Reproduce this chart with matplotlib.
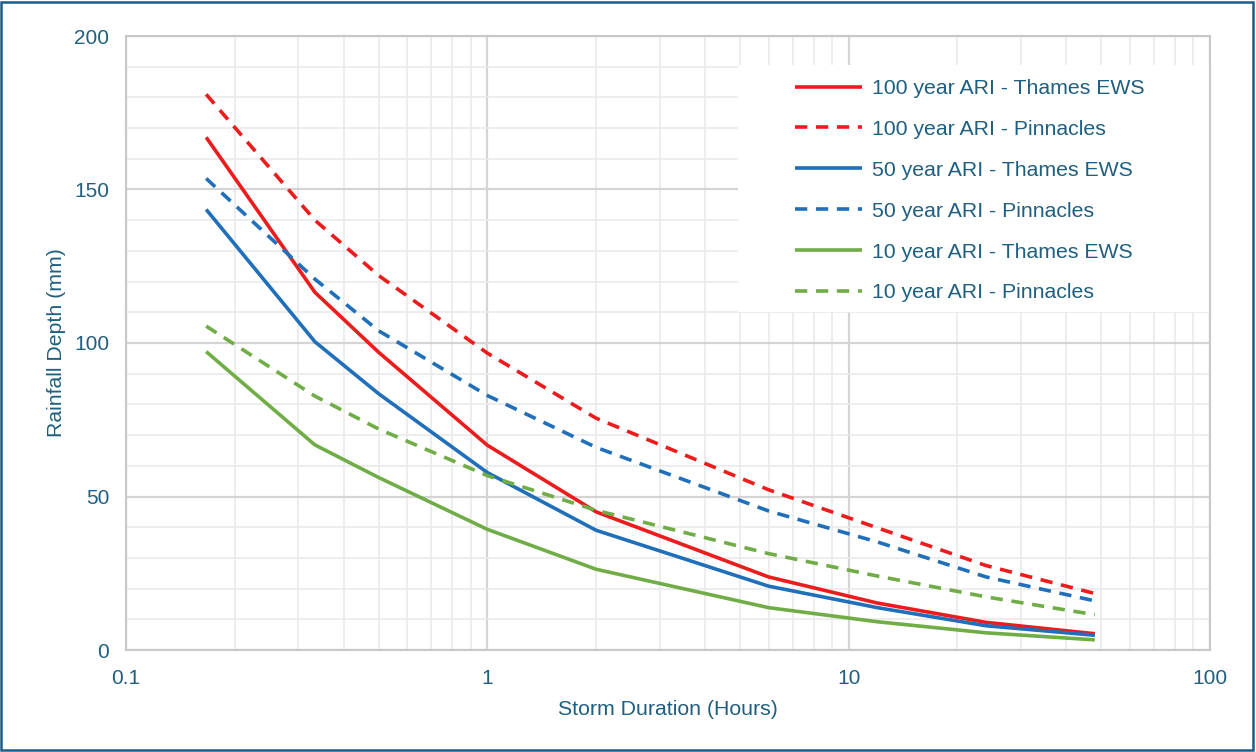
import matplotlib
matplotlib.use("Agg")
import matplotlib.pyplot as plt
from matplotlib.ticker import FixedLocator, NullFormatter, MultipleLocator
from matplotlib.patches import Rectangle

# ---- data ----
durations = [1/6, 1/3, 0.5, 1, 2, 6, 12, 24, 48]
ari100_thames = [167, 116.5, 97, 66.7, 45, 23.8, 15.3, 9, 5.3]
ari100_pinn = [181, 140, 122, 96.7, 75.5, 52.2, 39.8, 27.5, 18.4]
ari50_thames = [143.5, 100.4, 83.5, 57.8, 39, 20.8, 13.8, 7.9, 4.8]
ari50_pinn = [153.6, 120.8, 104, 82.9, 66, 45.3, 35.2, 23.8, 16]
ari10_thames = [97.2, 66.8, 56.2, 39.3, 26.3, 13.8, 9.2, 5.6, 3.3]
ari10_pinn = [105.5, 82.7, 72, 56.8, 45.5, 31.4, 24.1, 17.3, 11.5]

labels = ["100 year ARI - Thames EWS", "100 year ARI - Pinnacles",
          "50 year ARI - Thames EWS", "50 year ARI - Pinnacles",
          "10 year ARI - Thames EWS", "10 year ARI - Pinnacles"]
x_ticks = [0.1, 1, 10, 100]
x_ticklabels = ["0.1", "1", "10", "100"]
y_ticks = [0, 50, 100, 150, 200]

RED = "#EC1C1C"
BLUE = "#1F6FBA"
GREEN = "#70AD47"
TXT = "#1F5F7F"

plt.rcParams['font.family'] = ['Liberation Sans', 'DejaVu Sans']

fig = plt.figure(figsize=(12.56, 7.52), dpi=100)
ax = fig.add_axes([126/1256, 102/752, (1210-126)/1256, (650-36)/752])

series = [ari100_thames, ari100_pinn, ari50_thames, ari50_pinn, ari10_thames, ari10_pinn]
colors = [RED, RED, BLUE, BLUE, GREEN, GREEN]
styles = ['-', (0, (3.4, 2.4)), '-', (0, (3.4, 2.4)), '-', (0, (3.4, 2.4))]
for vals, c, ls, lab in zip(series, colors, styles, labels):
    ax.plot(durations, vals, color=c, linestyle=ls, linewidth=2.6, label=lab,
            solid_capstyle='butt', dash_capstyle='butt', zorder=3)

ax.set_xscale('log')
ax.set_xlim(0.1, 100)
ax.set_ylim(0, 200)
ax.xaxis.set_major_locator(FixedLocator(x_ticks))
ax.set_xticklabels(x_ticklabels)
ax.xaxis.set_minor_locator(FixedLocator([m * 10**e for e in (-1, 0, 1) for m in range(2, 10)]))
ax.xaxis.set_minor_formatter(NullFormatter())
ax.yaxis.set_major_locator(FixedLocator(y_ticks))
ax.yaxis.set_minor_locator(MultipleLocator(10))

ax.grid(which='major', color='#D4D4D4', linewidth=1.6)
ax.grid(which='minor', color='#EAEAEA', linewidth=1.2)
ax.set_axisbelow(True)
for s in ax.spines.values():
    s.set_color('#C8C8C8')
    s.set_linewidth(1.5)
ax.tick_params(which='both', length=0, colors=TXT, labelsize=15)
ax.tick_params(axis='y', pad=12)
ax.tick_params(axis='x', pad=14)

ax.set_xlabel("Storm Duration (Hours)", color=TXT, fontsize=15.3, labelpad=8)
ax.set_ylabel("Rainfall Depth (mm)", color=TXT, fontsize=15.3, labelpad=6)

# white legend background panel
ax.add_patch(Rectangle((0.5646, 0.5505), 1.0 - 0.5646, 0.9528 - 0.5505,
                       transform=ax.transAxes, facecolor='white',
                       edgecolor='none', zorder=2.5))

leg = ax.legend(loc='upper left', bbox_to_anchor=(0.6172, 0.930), frameon=False,
                fontsize=15.3, handlelength=3.15, handletextpad=0.47,
                labelspacing=1.03, borderpad=0.0, borderaxespad=0.0)
leg.set_zorder(4)
for t in leg.get_texts():
    t.set_color(TXT)

# outer figure border
fig.patches.append(Rectangle((0.001, 0.002), 0.997, 0.995, transform=fig.transFigure,
                             fill=False, edgecolor='#1F5C8A', linewidth=1.8))

fig.savefig("out.png", dpi=100)
